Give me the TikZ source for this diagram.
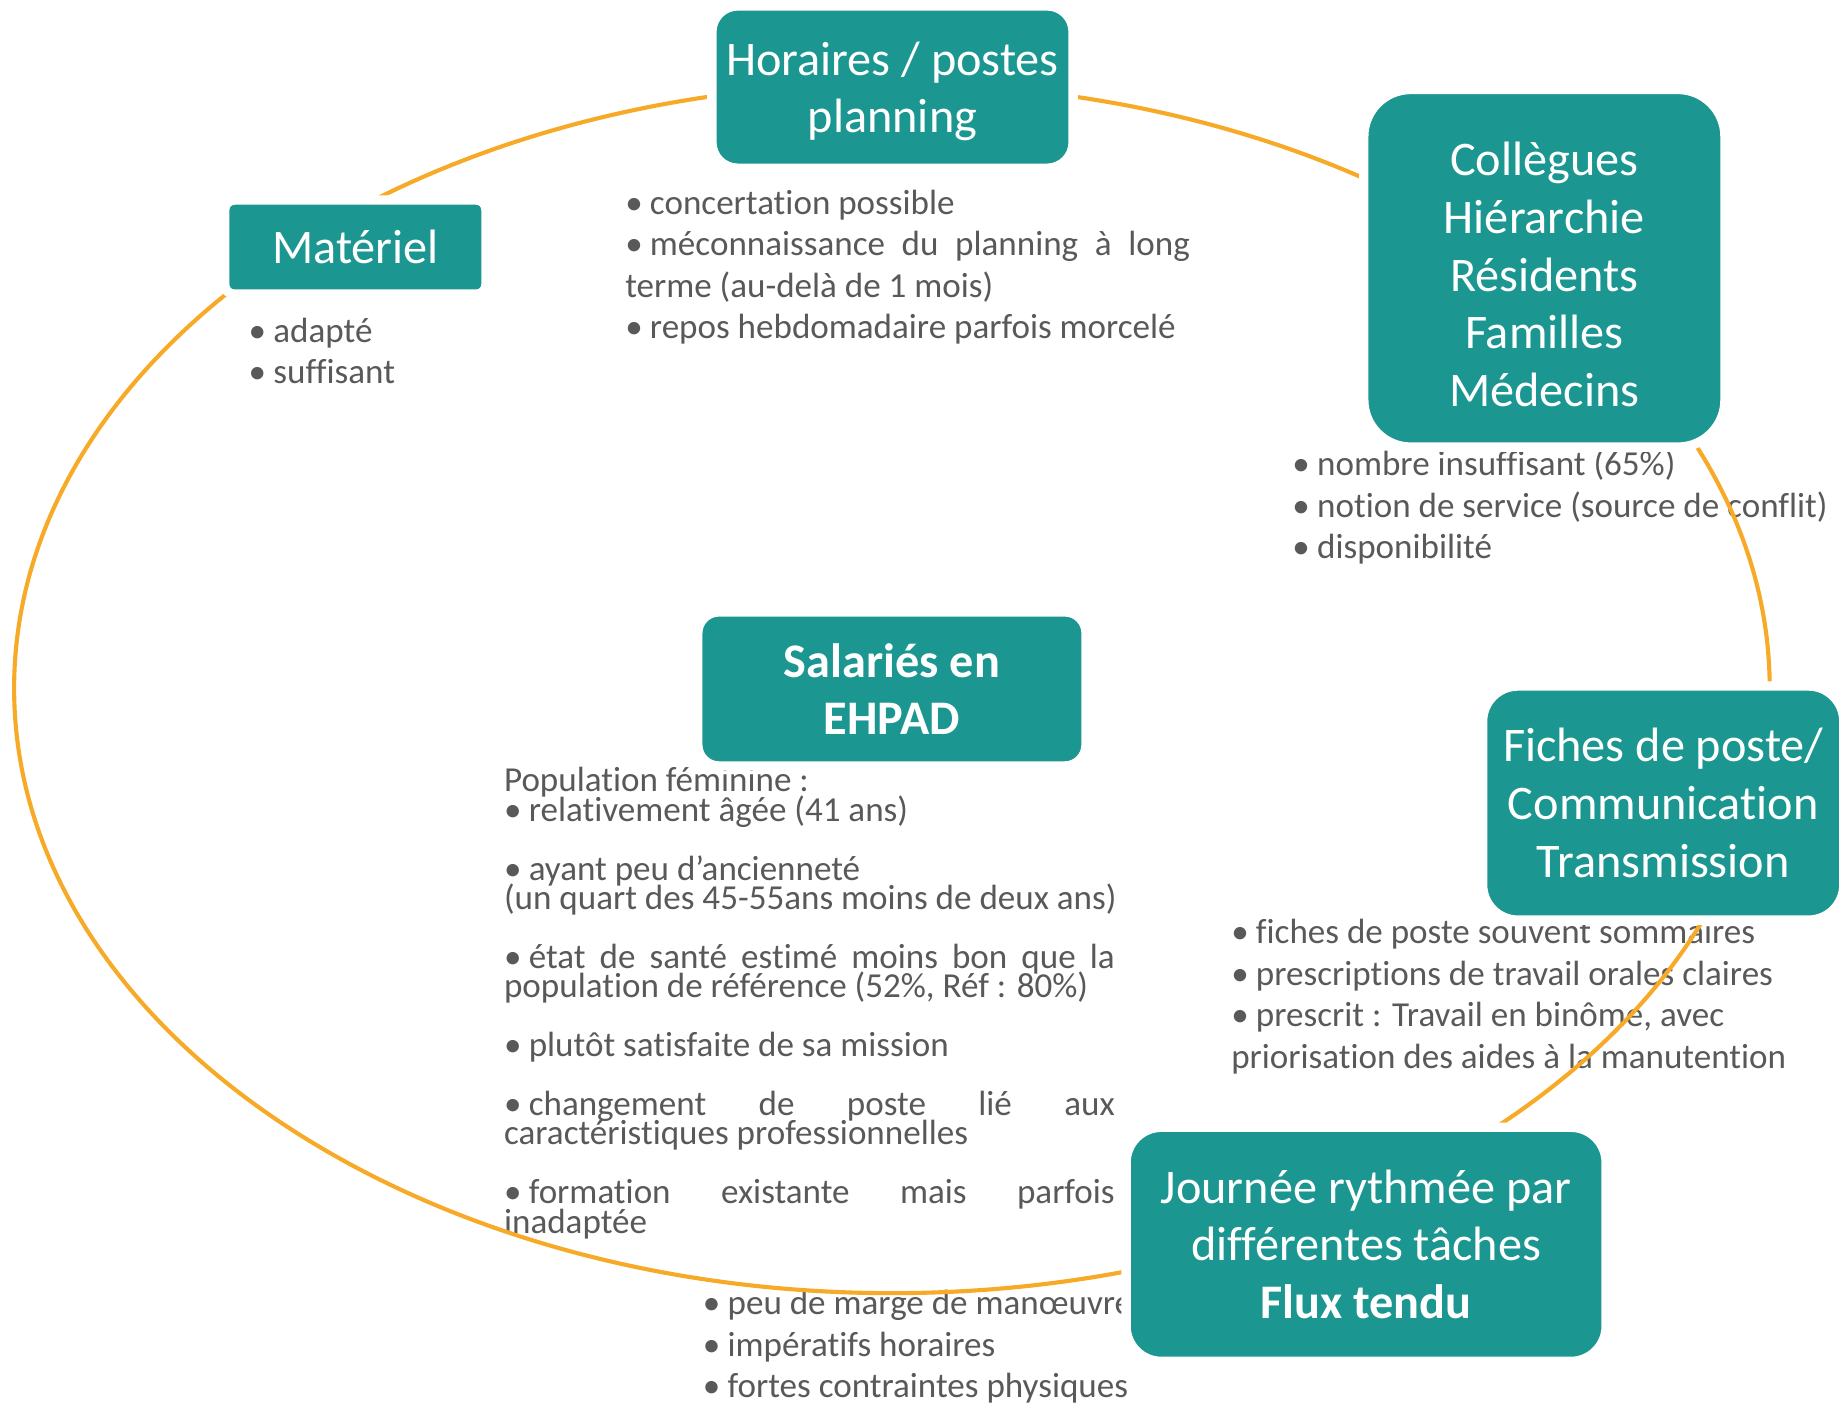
\documentclass[tikz,border=0pt]{standalone}
\usepackage{fontspec}
\setmainfont{Carlito}[Ligatures=NoCommon]
\definecolor{boxteal}{RGB}{27,150,144}
\definecolor{ringorange}{RGB}{247,170,40}
\definecolor{notegray}{RGB}{89,89,89}
\newcommand{\bl}{\makebox[10.5pt][l]{•}}
\newcommand{\jline}[1]{\makebox[#1][s]}
\newcommand{\tightlines}{\fontsize{14.9}{12.5}\selectfont\lineskiplimit=-100pt\relax}
\begin{document}
\begin{tikzpicture}[x=0.5pt,y=-0.5pt,
  box/.style={fill=boxteal, draw=white, line width=4pt, text=white,
    align=center, inner sep=0pt, font=\fontsize{20.5}{24.5}\selectfont},
  note/.style={text=notegray, align=left, inner sep=0pt, anchor=base west,
    font=\fontsize{14.9}{17.65}\selectfont},
  tightnote/.style={note, font=\tightlines},
  ring/.style={draw=ringorange, line width=1.75pt}]
\useasboundingbox (0,0) rectangle (1568,1192);

% bullet lists (anchored at the baseline of their last line)
\node[note] (horairesNotes) at (531,288) {\bl concertation possible\\
  \jline{240pt}{\bl méconnaissance du planning à long}\\
  terme (au-delà de 1 mois)\\
  \bl repos hebdomadaire parfois morcelé};
\node[note] (materielNotes) at (211,326) {\bl adapté\\ \bl suffisant};
\node[note] (colleguesNotes) at (1098,475) {\bl nombre insuffisant (65\%)\\
  \bl notion de service (source de conflit)\\
  \bl disponibilité};
\node[note] (fichesNotes) at (1046,908) {\bl fiches de poste souvent sommaires\\
  \bl prescriptions de travail orales claires\\
  \bl prescrit : Travail en binôme, avec\\
  priorisation des aides à la manutention};
\node[note] (journeeNotes) at (597,1188) {\bl peu de marge de manœuvre\\
  \bl impératifs horaires\\
  \bl fortes contraintes physiques};
\node[tightnote] (salariesNotes) at (428,1048) {Population féminine :\\
  \bl relativement âgée (41 ans)\\[12.5pt]
  \bl ayant peu d’ancienneté\\
  (un quart des 45-55ans moins de deux ans)\\[12.5pt]
  \jline{259.5pt}{\bl état de santé estimé moins bon que la}\\
  population de référence (52\%, Réf : 80\%)\\[12.5pt]
  \bl plutôt satisfaite de sa mission\\[12.5pt]
  \jline{259.5pt}{\bl changement de poste lié aux}\\
  caractéristiques professionnelles\\[12.5pt]
  \jline{259.5pt}{\bl formation existante mais parfois}\\
  inadaptée};

% the ring linking the themes
\draw[ring] (758,585) ellipse [x radius=373pt, y radius=257pt];

% theme boxes
\node[box, minimum width=153.5pt, minimum height=69pt, rounded corners=11pt]
  (horaires) at (758.5,74) {\rule{0pt}{18pt}Horaires / postes\\planning};
\node[box, minimum width=111pt, minimum height=40pt, rounded corners=4pt]
  (materiel) at (302,210) {Matériel};
\node[box, minimum width=153.5pt, minimum height=152pt, rounded corners=20pt]
  (collegues) at (1312.5,228) {\rule{0pt}{19.5pt}Collègues\\Hiérarchie\\Résidents\\Familles\\Médecins};
\node[box, minimum width=165pt, minimum height=65.5pt, rounded corners=9pt]
  (salaries) at (758,585.5) {\bfseries Salariés en\\\bfseries EHPAD};
\node[box, minimum width=153.5pt, minimum height=99.5pt, rounded corners=15pt]
  (fiches) at (1413.5,682.5) {Fiches de poste/\\Communication\\Transmission};
\node[box, minimum width=204pt, minimum height=99.5pt, rounded corners=15pt]
  (journee) at (1161,1057.5) {Journée rythmée par\\différentes tâches\\\bfseries Flux tendu};
\end{tikzpicture}
\end{document}
